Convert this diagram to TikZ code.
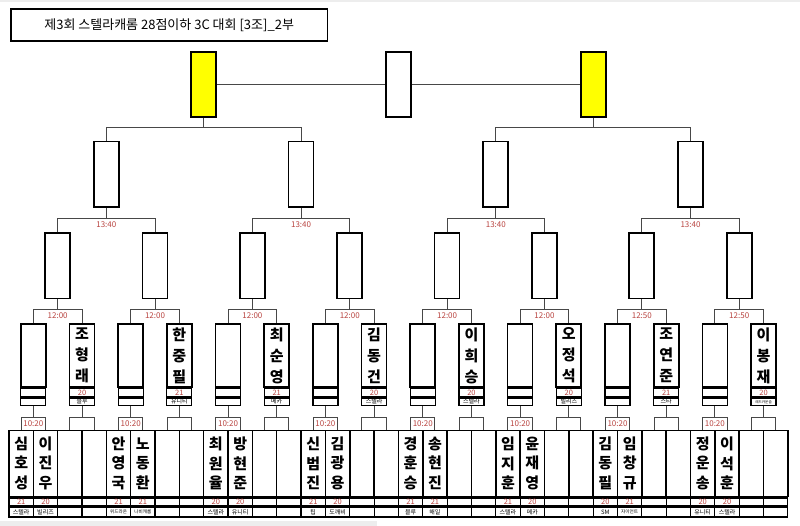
\documentclass[tikz,border=0pt]{standalone}
\usepackage{fontspec}
\setmainfont{Noto Sans CJK KR}
\usetikzlibrary{positioning, calc}
\definecolor{cred}{HTML}{B8433F}
\definecolor{cgrey}{HTML}{474747}
\definecolor{cyellow}{HTML}{FFFF00}
\definecolor{cshade}{HTML}{EDEDED}
\newcommand\smallclub[1]{{\fontsize{4.6}{5}\selectfont #1}}
\newcommand\tinyclub[1]{{\fontsize{3.6}{4}\selectfont #1}}
\def\cellw{24.34}
\def\xo{9}
\tikzset{
  every picture/.style={line width=1pt},
  slotbox/.style={draw=black, line width=1.7pt, minimum width=25pt, minimum height=65.4pt, inner sep=0pt, anchor=north},
  seedbox/.style={slotbox, minimum height=62.7pt, align=center, font=\fontsize{15}{21}\selectfont\bfseries},
  cellbox/.style={draw=black, line width=1.5pt, minimum width=\cellw pt, minimum height=66.2pt, inner sep=0pt, anchor=north, align=center, font=\fontsize{15}{19.5}\selectfont\bfseries},
  scorebox/.style={draw=black, line width=1.2pt, minimum width=#1, minimum height=8pt, inner sep=0pt, anchor=north, text=cred, font=\fontsize{7.5}{8}\selectfont},
  clubbox/.style={draw=black, line width=1.2pt, minimum width=#1, minimum height=7.6pt, inner sep=0pt, anchor=north, font=\fontsize{6}{7}\selectfont},
  link/.style={draw=cgrey, line width=1pt},
  timelabel/.style={text=cred, inner sep=0pt, font=\fontsize{8}{9}\selectfont},
  titlebox/.style={draw=black, line width=1.8pt, minimum width=316.5pt, minimum height=32pt, anchor=north west, font=\fontsize{13}{15}\selectfont},
}

\begin{document}
\begin{tikzpicture}[x=1pt, y=-1pt]
  \useasboundingbox (0,0) rectangle (800,526);
  \fill[cshade] (0,0) rectangle (800,2);
  \fill[cshade] (0,520.5) rectangle (377,526);

  \node[titlebox] (title) at (10,8) {제3회 스텔라캐롬 28점이하 3C 대회 [3조]\_2부};

  % final and semis / quarters
  \node[slotbox, fill=cyellow] (f1) at ({\xo+\cellw*8}, 51) {};
  \node[slotbox] (f0) at ({\xo+\cellw*16}, 51) {};
  \node[slotbox, fill=cyellow] (f2) at ({\xo+\cellw*24}, 51) {};
  \foreach \n in {1,...,4}
    \node[slotbox] (s\n) at ({\xo+\cellw*(8*\n-4)}, 140.7) {};
  \foreach \m in {1,...,8}
    \node[slotbox] (q\m) at ({\xo+\cellw*(4*\m-2)}, 232.3) {};

  % round of 16 seeds
  \foreach \k/\nm/\sc/\cl in {1/{조\\형\\래}/20/블루, 2/{한\\중\\필}/21/유니티,
      3/{최\\순\\영}/21/메카, 4/{김\\동\\건}/20/스텔라, 5/{이\\희\\승}/20/스텔라,
      6/{오\\정\\석}/20/빌리즈, 7/{조\\연\\준}/21/스타, 8/{이\\봉\\재}/20/\tinyclub{레드카운슬}}{
    \pgfmathtruncatemacro\ja{2*\k-1}
    \pgfmathtruncatemacro\jb{2*\k}
    \node[seedbox] (r\ja) at ({\xo+\cellw*(2*\ja-1)}, 323.3) {};
    \node[scorebox=25pt, below=0.2pt of r\ja] (rs\ja) {};
    \node[clubbox=25pt, below=0.2pt of rs\ja] (rc\ja) {};
    \node[seedbox] (r\jb) at ({\xo+\cellw*(2*\jb-1)}, 323.3) {\nm};
    \node[scorebox=25pt, below=0.2pt of r\jb] (rs\jb) {\sc};
    \node[clubbox=25pt, below=0.2pt of rs\jb] (rc\jb) {\cl};
  }

  % first round players
  \foreach \k/\na/\sa/\ca/\nb/\sb/\cb in {
      1/{심\\호\\성}/21/스텔라/{이\\진\\우}/20/빌리즈,
      2/{안\\영\\국}/21/\smallclub{위드라온}/{노\\동\\환}/21/\smallclub{나비캐롬},
      3/{최\\원\\율}/20/스텔라/{방\\현\\준}/20/유니티,
      4/{신\\범\\진}/21/팁/{김\\광\\용}/20/도깨비,
      5/{경\\훈\\승}/21/블루/{송\\현\\진}/21/해일,
      6/{임\\지\\훈}/21/스텔라/{윤\\재\\영}/20/메카,
      7/{김\\동\\필}/20/SM/{임\\창\\규}/21/\smallclub{자이언트},
      8/{정\\운\\송}/20/유니티/{이\\석\\훈}/20/스텔라}{
    \pgfmathtruncatemacro\ia{4*\k-3}
    \pgfmathtruncatemacro\ib{4*\k-2}
    \pgfmathtruncatemacro\ic{4*\k-1}
    \pgfmathtruncatemacro\id{4*\k}
    \node[cellbox] (p\ia) at ({\xo+\cellw*(\ia-0.5)}, 429.5) {\na};
    \node[cellbox] (p\ib) at ({\xo+\cellw*(\ib-0.5)}, 429.5) {\nb};
    \node[cellbox] (p\ic) at ({\xo+\cellw*(\ic-0.5)}, 429.5) {};
    \node[cellbox] (p\id) at ({\xo+\cellw*(\id-0.5)}, 429.5) {};
    \node[scorebox=\cellw pt, below=0.2pt of p\ia] (ps\ia) {\sa};
    \node[scorebox=\cellw pt, below=0.2pt of p\ib] (ps\ib) {\sb};
    \node[scorebox=\cellw pt, below=0.2pt of p\ic] (ps\ic) {};
    \node[scorebox=\cellw pt, below=0.2pt of p\id] (ps\id) {};
    \node[clubbox=\cellw pt, minimum height=9.5pt, below=0.3pt of ps\ia] (pc\ia) {\ca};
    \node[clubbox=\cellw pt, minimum height=9.5pt, below=0.3pt of ps\ib] (pc\ib) {\cb};
    \node[clubbox=\cellw pt, minimum height=9.5pt, below=0.3pt of ps\ic] (pc\ic) {};
    \node[clubbox=\cellw pt, minimum height=9.5pt, below=0.3pt of ps\id] (pc\id) {};
  }

  % bracket lines
  \coordinate (l4) at (0,127.3);
  \coordinate (l8) at (0,218.3);
  \coordinate (l16) at (0,310);
  \coordinate (l32) at (0,417.3);
  \draw[link] (f1.east) -- (f0.west);
  \draw[link] (f0.east) -- (f2.west);
  \foreach \f/\ia/\ib in {1/1/2, 2/3/4}{
    \draw[link] (s\ia.north) -- (s\ia.north |- l4) -- (s\ib.north |- l4) -- (s\ib.north);
    \draw[link] (f\f.south) -- (f\f.south |- l4);
  }
  \foreach \n in {1,...,4}{
    \pgfmathtruncatemacro\ia{2*\n-1}
    \pgfmathtruncatemacro\ib{2*\n}
    \draw[link] (q\ia.north) -- (q\ia.north |- l8) -- (q\ib.north |- l8) -- (q\ib.north);
    \draw[link] (s\n.south) -- (s\n.south |- l8);
    \node[timelabel] (t8-\n) at ($(s\n.south |- l8)+(0,6.7)$) {13:40};
  }
  \foreach \m/\tm in {1/12:00, 2/12:00, 3/12:00, 4/12:00, 5/12:00, 6/12:00, 7/12:50, 8/12:50}{
    \pgfmathtruncatemacro\ia{2*\m-1}
    \pgfmathtruncatemacro\ib{2*\m}
    \draw[link] (r\ia.north) -- (r\ia.north |- l16) -- (r\ib.north |- l16) -- (r\ib.north);
    \draw[link] (q\m.south) -- (q\m.south |- l16);
    \node[timelabel] (t16-\m) at ($(q\m.south |- l16)+(0,6)$) {\tm};
  }
  \foreach \j in {1,...,16}{
    \pgfmathtruncatemacro\ia{2*\j-1}
    \pgfmathtruncatemacro\ib{2*\j}
    \draw[link] (p\ia.north) -- (p\ia.north |- l32) -- (p\ib.north |- l32) -- (p\ib.north);
    \draw[link] (rc\j.south) -- (rc\j.south |- l32);
  }
  \foreach \j in {1,3,...,15}
    \node[timelabel] (t32-\j) at ($(rc\j.south |- l32)+(0,6)$) {10:20};
\end{tikzpicture}
\end{document}
